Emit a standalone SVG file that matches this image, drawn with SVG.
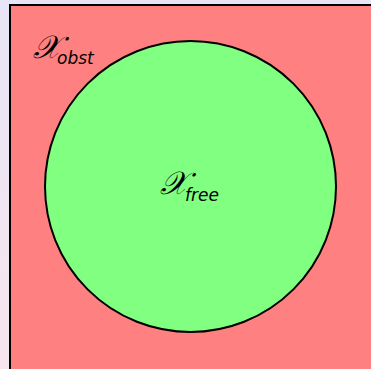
<svg xmlns="http://www.w3.org/2000/svg" width="371" height="369" viewBox="0 0 371 369">
<defs>
<linearGradient id="bg" x1="0" y1="0" x2="0" y2="1">
<stop offset="0" stop-color="#E7E5F6"/>
<stop offset="1" stop-color="#F7E5EE"/>
</linearGradient>
<style>
.lbl{font-family:"DejaVu Serif","Liberation Serif",serif;font-style:italic;font-size:32px;fill:#000}
.sub{font-family:"DejaVu Sans","Liberation Sans",sans-serif;font-style:italic;font-size:17px}
</style>
</defs>
<rect x="0" y="0" width="371" height="369" fill="url(#bg)"/>
<g id="obst">
<rect x="10" y="5" width="370" height="370" fill="#FF8080" stroke="#000" stroke-width="2"/>
<text class="lbl" x="33" y="58">𝒳<tspan class="sub" dx="-4" dy="6">obst</tspan></text>
</g>
<g id="free">
<circle cx="190.5" cy="186.5" r="145.5" fill="#80FF80" stroke="#000" stroke-width="2"/>
<text class="lbl" x="160" y="194">𝒳<tspan class="sub" dx="-3" dy="7">free</tspan></text>
</g>
<g id="connectors"/>
</svg>
